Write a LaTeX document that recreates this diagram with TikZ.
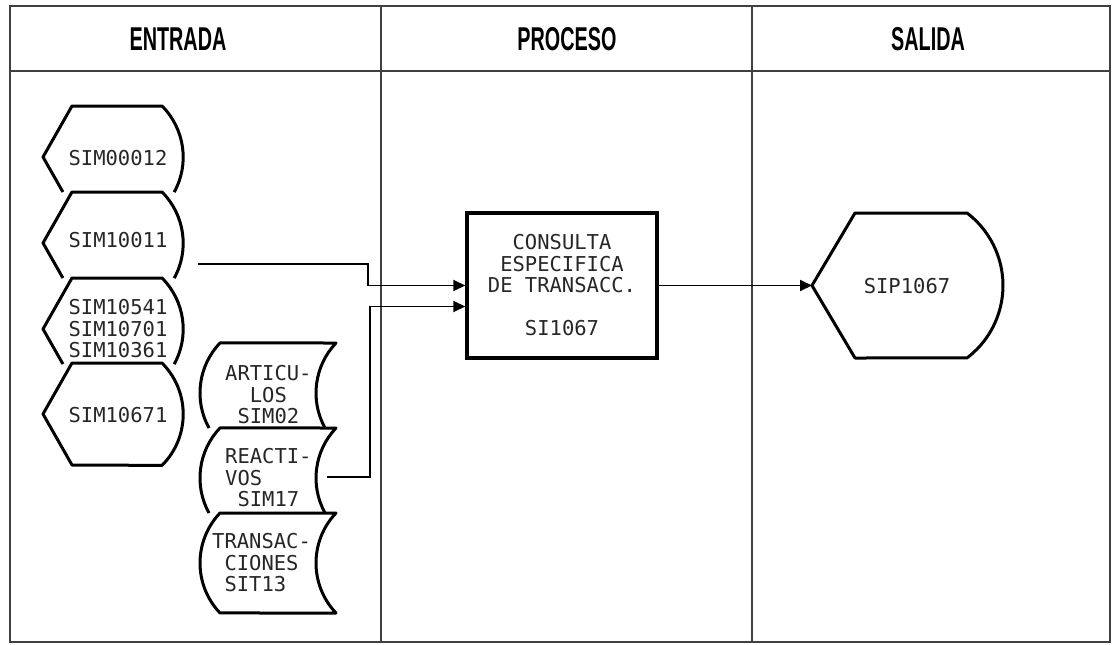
\documentclass[tikz,border=0pt]{standalone}
\usepackage{fontspec}
\usepackage{graphicx}
\usetikzlibrary{arrows.meta}
\newfontfamily\monof{DejaVu Sans Mono}
\newfontfamily\headf{Liberation Sans}
\newcommand\blk{\hphantom{A}}
\newcommand\hd[1]{\scalebox{0.6}[1]{\headf\bfseries\fontsize{33pt}{33pt}\selectfont #1}}
\begin{document}
\begin{tikzpicture}[x=1pt,y=1pt,
  frame/.style={draw=black!75, line width=1.6pt},
  shp/.style={draw=black, line width=3pt, line join=round},
  txt/.style={font=\monof\fontsize{20.5pt}{21.5pt}\selectfont, text=black!85, inner sep=0pt, align=center},
  hdr/.style={inner sep=0pt},
  conn/.style={draw=black, line width=1.8pt},
  arr/.style={conn, -{Triangle[length=12pt,width=11pt]}}]
\useasboundingbox (0,0) rectangle (1117,-645);

% frame and columns
\draw[frame] (10,-6) rectangle (1110,-642);
\draw[frame, line width=2.2pt] (10,-71) -- (1110,-71);
\draw[frame] (381,-6) -- (381,-642);
\draw[frame] (752,-6) -- (752,-642);

\node[hdr] (hE) at (178,-39) {\hd{ENTRADA}};
\node[hdr] (hP) at (567,-39) {\hd{PROCESO}};
\node[hdr] (hS) at (928,-39) {\hd{SALIDA}};

% display shapes (entrada)
\begin{scope}[shift={(0,-106)}]
\draw[shp] (62.9,-86) -- (43,-51) -- (72,0) -- (162,0) arc[start angle=45,end angle=-28.9,radius=72.4];
\end{scope}
\begin{scope}[shift={(0,-192)}]
\draw[shp] (62.9,-86) -- (43,-51) -- (72,0) -- (162,0) arc[start angle=45,end angle=-28.9,radius=72.4];
\end{scope}
\begin{scope}[shift={(0,-278)}]
\draw[shp] (62.9,-86) -- (43,-51) -- (72,0) -- (162,0) arc[start angle=45,end angle=-28.9,radius=72.4];
\end{scope}
\begin{scope}[shift={(0,-363)}]
\draw[shp] (72,-102) -- (43,-51) -- (72,0) -- (162,0) arc[start angle=45,end angle=-45,radius=72.4] -- cycle;
\end{scope}

\node[txt] (s1) at (118,-158) {SIM00012};
\node[txt] (s2) at (118,-240) {SIM10011};
\node[txt] (s3) at (118,-329) {SIM10541\\SIM10701\\SIM10361};
\node[txt] (s4) at (118,-415) {SIM10671};

% stored data shapes
\begin{scope}[shift={(0,-343)}]
\draw[shp] (209,-85) arc[start angle=208.9,end angle=136.4,radius=72.5] -- (336,0) arc[start angle=136.4,end angle=208.9,radius=72.5];
\end{scope}
\begin{scope}[shift={(0,-428)}]
\draw[shp] (209,-85) arc[start angle=208.9,end angle=136.4,radius=72.5] -- (336,0) arc[start angle=136.4,end angle=208.9,radius=72.5];
\end{scope}
\begin{scope}[shift={(0,-513)}]
\draw[shp] (220,0) arc[start angle=136.4,end angle=223.6,radius=72.5] -- (336,-100) arc[start angle=223.6,end angle=136.4,radius=72.5] -- cycle;
\end{scope}

\node[txt, align=left, anchor=west] (d1) at (225,-395) {ARTICU-\\\blk\blk LOS\\\blk SIM02};
\node[txt, align=left, anchor=west] (d2) at (225,-478) {REACTI-\\VOS\\\blk SIM17};
\node[txt, align=left, anchor=west] (d3) at (212,-563) {TRANSAC-\\\blk CIONES\\\blk SIT13};

% process
\node[txt, draw=black, line width=3.5pt, minimum width=190, minimum height=145] (proc) at (562,-285.5)
  {CONSULTA\\ESPECIFICA\\DE TRANSACC.\\[21.5pt]SI1067};

% salida
\coordinate (sipL) at (812,-285.5);
\draw[shp] (sipL) -- (855,-213) -- (967,-213) arc[start angle=52.8,end angle=-52.8,radius=91] -- (855,-358) -- cycle;
\node[txt] (sip) at (907,-286) {SIP1067};

% connectors
\coordinate (o1) at (198,-264);
\coordinate (o2) at (327,-477);
\draw[arr] (o1) -- (368,-264) |- (proc.west);
\draw[arr] (o2) -- (370,-477) |- ([yshift=-21pt]proc.west);
\draw[arr] (proc.east) -- (sipL);
\end{tikzpicture}
\end{document}
